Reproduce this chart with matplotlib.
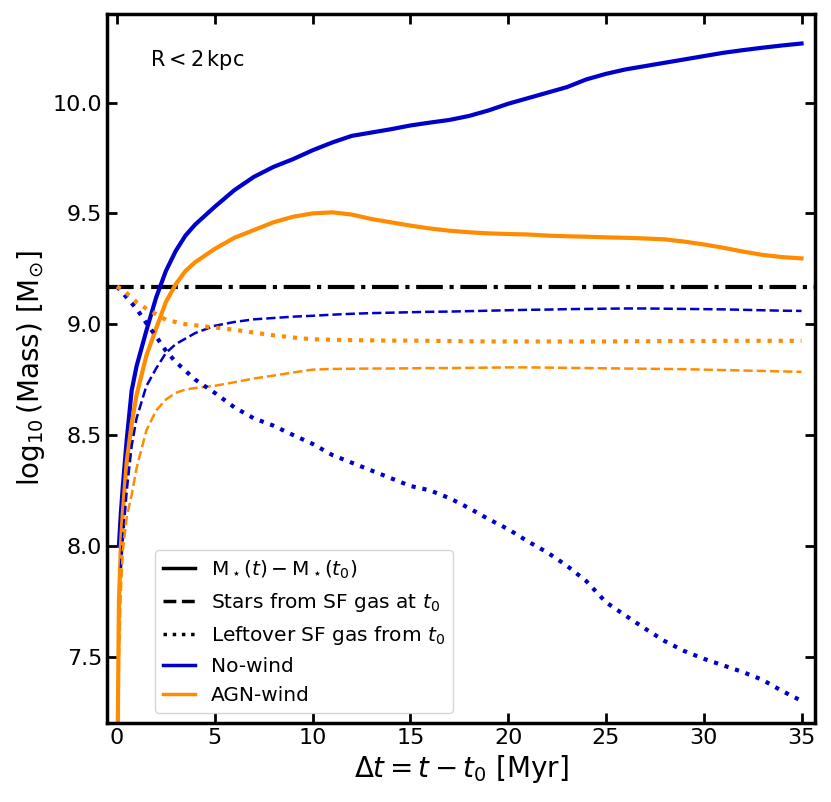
# Mass growth inside R < 2 kpc: no-wind vs AGN-wind runs
import numpy as np
import matplotlib
matplotlib.use("Agg")
import matplotlib.pyplot as plt

# time since t0 [Myr]
t = [0, 0.1, 0.2, 0.3, 0.5, 0.75, 1.0, 1.5, 2.0, 2.5, 3.0, 3.5, 4.0,
     5, 6, 7, 8, 9, 10, 11, 12, 13, 14, 15, 16, 17, 18, 19, 20,
     21, 22, 23, 24, 25, 26, 27, 28, 29, 30, 31, 32, 33, 34, 35]

# log10 of M*(t) - M*(t0)
nw_total = [np.nan, 8.0, 8.15, 8.27, 8.48, 8.70, 8.81, 8.97, 9.12, 9.24, 9.33, 9.40, 9.45,
            9.53, 9.605, 9.665, 9.71, 9.745, 9.785, 9.82, 9.85, 9.865, 9.88, 9.897, 9.91, 9.922, 9.94, 9.965, 9.995,
            10.02, 10.045, 10.07, 10.105, 10.13, 10.15, 10.165, 10.18, 10.195, 10.21, 10.225, 10.237, 10.248, 10.258, 10.267]
agn_total = [6.8, 7.75, 8.0, 8.15, 8.38, 8.55, 8.68, 8.857, 8.98, 9.10, 9.18, 9.24, 9.28,
             9.34, 9.39, 9.425, 9.46, 9.485, 9.50, 9.505, 9.495, 9.475, 9.46, 9.445, 9.432, 9.422, 9.415, 9.41, 9.407,
             9.405, 9.40, 9.397, 9.395, 9.392, 9.39, 9.387, 9.383, 9.373, 9.36, 9.345, 9.328, 9.313, 9.303, 9.297]

# stars formed from the SF gas present at t0
nw_stars = [np.nan, np.nan, 7.9, 8.03, 8.25, 8.45, 8.575, 8.72, 8.80, 8.87, 8.91, 8.935, 8.96,
            8.993, 9.01, 9.022, 9.028, 9.034, 9.038, 9.043, 9.047, 9.05, 9.052, 9.054, 9.056, 9.057, 9.059, 9.061, 9.063,
            9.065, 9.066, 9.068, 9.069, 9.07, 9.071, 9.071, 9.07, 9.069, 9.068, 9.067, 9.065, 9.063, 9.061, 9.06]
agn_stars = [6.8, 7.5, 7.8, 7.98, 8.13, 8.23, 8.35, 8.52, 8.61, 8.66, 8.69, 8.705, 8.712,
             8.722, 8.738, 8.755, 8.768, 8.782, 8.795, 8.798, 8.799, 8.80, 8.80, 8.801, 8.802, 8.802, 8.803, 8.804, 8.805,
             8.805, 8.804, 8.803, 8.802, 8.801, 8.80, 8.799, 8.798, 8.797, 8.795, 8.793, 8.791, 8.789, 8.787, 8.785]

# SF gas from t0 that is still left
nw_gas = [9.17, 9.16, 9.15, 9.14, 9.12, 9.095, 9.07, 9.005, 8.945, 8.88, 8.83, 8.79, 8.75,
          8.69, 8.625, 8.575, 8.542, 8.50, 8.46, 8.41, 8.375, 8.34, 8.305, 8.27, 8.25, 8.215, 8.17, 8.12, 8.075,
          8.02, 7.97, 7.91, 7.84, 7.745, 7.685, 7.626, 7.57, 7.525, 7.49, 7.46, 7.43, 7.395, 7.345, 7.30]
agn_gas = [9.17, 9.165, 9.16, 9.155, 9.14, 9.12, 9.10, 9.07, 9.045, 9.02, 9.01, 9.0, 8.995,
           8.985, 8.975, 8.962, 8.95, 8.94, 8.932, 8.93, 8.928, 8.927, 8.926, 8.926, 8.925, 8.924, 8.923, 8.922, 8.922,
           8.922, 8.922, 8.922, 8.922, 8.922, 8.923, 8.923, 8.924, 8.924, 8.924, 8.925, 8.925, 8.925, 8.925, 8.925]

# total SF gas mass at t0
sf_gas_t0 = 9.17

c_nw = "mediumblue"
c_agn = "darkorange"

fig = plt.figure(figsize=(8.31, 8.02), dpi=100)
ax = fig.add_axes([0.129, 0.0985, 0.852, 0.884])

ax.axhline(sf_gas_t0, color="k", ls="-.", lw=3)

ax.plot(t, nw_total, color=c_nw, lw=3)
ax.plot(t, agn_total, color=c_agn, lw=3)
ax.plot(t, nw_stars, color=c_nw, ls="--", lw=1.8)
ax.plot(t, agn_stars, color=c_agn, ls="--", lw=1.8)
ax.plot(t, nw_gas, color=c_nw, ls=":", lw=3)
ax.plot(t, agn_gas, color=c_agn, ls=":", lw=3)

# legend proxies
ax.plot([], [], color="k", lw=2.5, label=r"$\mathrm{M}_\star(t) - \mathrm{M}_\star(t_0)$")
ax.plot([], [], color="k", lw=2.5, ls="--", label=r"Stars from SF gas at $t_0$")
ax.plot([], [], color="k", lw=2.5, ls=":", label=r"Leftover SF gas from $t_0$")
ax.plot([], [], color=c_nw, lw=2.5, label="No-wind")
ax.plot([], [], color=c_agn, lw=2.5, label="AGN-wind")
ax.legend(loc="lower left", bbox_to_anchor=(0.053, 0.0), fontsize=14.5, handlelength=1.6)

ax.text(0.06, 0.935, r"$\mathrm{R} < 2\,\mathrm{kpc}$", transform=ax.transAxes,
        fontsize=15, va="center")

ax.set_xlim(-0.5, 35.7)
ax.set_ylim(7.2, 10.4)
ax.set_xticks([0, 5, 10, 15, 20, 25, 30, 35])
ax.set_yticks([7.5, 8.0, 8.5, 9.0, 9.5, 10.0])
ax.set_xlabel(r"$\Delta t = t - t_0$ [Myr]", fontsize=20)
ax.set_ylabel(r"$\log_{10}(\mathrm{Mass})\ [\mathrm{M}_{\odot}]$", fontsize=20)
ax.tick_params(direction="in", which="both", top=True, right=True,
               length=7, width=2, labelsize=16)
for sp in ax.spines.values():
    sp.set_linewidth(2.5)

fig.savefig("out.png", dpi=100)
